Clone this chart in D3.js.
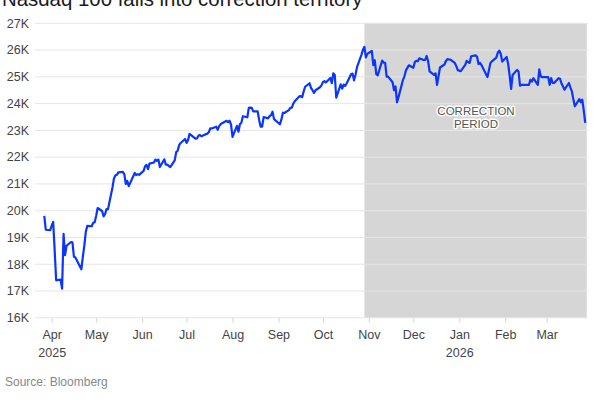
<!DOCTYPE html>
<html><head><meta charset="utf-8">
<script src="https://cdn.jsdelivr.net/npm/d3@7"></script>
<style>
html,body{margin:0;padding:0;background:#fff;}
svg{display:block;font-family:"Liberation Sans",Arial,sans-serif;}
</style></head>
<body><svg id="c" width="600" height="400"></svg>
<script>
const title = "Nasdaq 100 falls into correction territory";
const source = "Source: Bloomberg";
const annotation = ["CORRECTION", "PERIOD"];
const yTicks = [16000,17000,18000,19000,20000,21000,22000,23000,24000,25000,26000,27000];
const monthTicks = ["2025-04-01","2025-05-01","2025-06-01","2025-07-01","2025-08-01","2025-09-01","2025-10-01","2025-11-01","2025-12-01","2026-01-01","2026-02-01","2026-03-01"];
const correctionStart = "2025-10-29";
const correctionEnd = "2026-03-27";

const dates = [
"2025-03-27","2025-03-28","2025-03-31","2025-04-01","2025-04-02","2025-04-03","2025-04-04","2025-04-07","2025-04-08","2025-04-09",
"2025-04-10","2025-04-11","2025-04-14","2025-04-15","2025-04-16","2025-04-17","2025-04-21","2025-04-22","2025-04-23","2025-04-24",
"2025-04-25","2025-04-28","2025-04-29","2025-04-30","2025-05-01","2025-05-02","2025-05-05","2025-05-06","2025-05-07","2025-05-08",
"2025-05-09","2025-05-12","2025-05-13","2025-05-14","2025-05-15","2025-05-16","2025-05-19","2025-05-20","2025-05-21","2025-05-22",
"2025-05-23","2025-05-27","2025-05-28","2025-05-29","2025-05-30","2025-06-02","2025-06-03","2025-06-04","2025-06-05","2025-06-06",
"2025-06-09","2025-06-10","2025-06-11","2025-06-12","2025-06-13","2025-06-16","2025-06-17","2025-06-18","2025-06-20","2025-06-23",
"2025-06-24","2025-06-25","2025-06-26","2025-06-27","2025-06-30","2025-07-01","2025-07-02","2025-07-03","2025-07-07","2025-07-08",
"2025-07-09","2025-07-10","2025-07-11","2025-07-14","2025-07-15","2025-07-16","2025-07-17","2025-07-18","2025-07-21","2025-07-22",
"2025-07-23","2025-07-24","2025-07-25","2025-07-28","2025-07-29","2025-07-30","2025-07-31","2025-08-01","2025-08-04","2025-08-05",
"2025-08-06","2025-08-07","2025-08-08","2025-08-11","2025-08-12","2025-08-13","2025-08-14","2025-08-15","2025-08-18","2025-08-19",
"2025-08-20","2025-08-21","2025-08-22","2025-08-25","2025-08-26","2025-08-27","2025-08-28","2025-08-29","2025-09-02","2025-09-03",
"2025-09-04","2025-09-05","2025-09-08","2025-09-09","2025-09-10","2025-09-11","2025-09-12","2025-09-15","2025-09-16","2025-09-17",
"2025-09-18","2025-09-19","2025-09-22","2025-09-23","2025-09-24","2025-09-25","2025-09-26","2025-09-29","2025-09-30","2025-10-01",
"2025-10-02","2025-10-03","2025-10-06","2025-10-07","2025-10-08","2025-10-09","2025-10-10","2025-10-13","2025-10-14","2025-10-15",
"2025-10-16","2025-10-17","2025-10-20","2025-10-21","2025-10-22","2025-10-23","2025-10-24","2025-10-27","2025-10-28","2025-10-29",
"2025-10-30","2025-10-31","2025-11-03","2025-11-04","2025-11-05","2025-11-06","2025-11-07","2025-11-10","2025-11-11","2025-11-12",
"2025-11-13","2025-11-14","2025-11-17","2025-11-18","2025-11-19","2025-11-20","2025-11-21","2025-11-24","2025-11-25","2025-11-26",
"2025-11-28","2025-12-01","2025-12-02","2025-12-03","2025-12-04","2025-12-05","2025-12-08","2025-12-09","2025-12-10","2025-12-11",
"2025-12-12","2025-12-15","2025-12-16","2025-12-17","2025-12-18","2025-12-19","2025-12-22","2025-12-23","2025-12-24","2025-12-26",
"2025-12-29","2025-12-30","2025-12-31","2026-01-02","2026-01-05","2026-01-06","2026-01-07","2026-01-08","2026-01-09","2026-01-12",
"2026-01-13","2026-01-14","2026-01-15","2026-01-16","2026-01-20","2026-01-21","2026-01-22","2026-01-23","2026-01-26","2026-01-27",
"2026-01-28","2026-01-29","2026-01-30","2026-02-02","2026-02-03","2026-02-04","2026-02-05","2026-02-06","2026-02-09","2026-02-10",
"2026-02-11","2026-02-12","2026-02-13","2026-02-17","2026-02-18","2026-02-19","2026-02-20","2026-02-23","2026-02-24","2026-02-25",
"2026-02-26","2026-02-27","2026-03-02","2026-03-03","2026-03-04","2026-03-05","2026-03-06","2026-03-09","2026-03-10","2026-03-11",
"2026-03-12","2026-03-13","2026-03-16","2026-03-17","2026-03-18","2026-03-19","2026-03-20","2026-03-23","2026-03-24","2026-03-25",
"2026-03-26","2026-03-27"
];
const values = [
19810,19290,19270,19440,19580,18520,17400,17430,17090,19140,
18340,18690,18830,18820,18280,18250,17810,18280,18690,19210,
19430,19420,19550,19570,19810,20100,19990,19790,19870,20060,
20060,20870,21200,21320,21340,21430,21450,21370,21000,21110,
20920,21410,21330,21360,21340,21490,21660,21710,21550,21760,
21800,21910,21860,21910,21630,21920,21720,21720,21630,21880,
22190,22240,22450,22530,22680,22530,22640,22870,22690,22700,
22800,22830,22780,22860,22880,22930,23080,23070,23140,23020,
23160,23230,23270,23360,23310,23360,23220,22760,23170,22950,
23230,23290,23530,23490,23840,23850,23840,23710,23710,23380,
23140,23140,23500,23450,23530,23570,23700,23420,23230,23410,
23660,23650,23760,23840,23850,24000,24090,24270,24280,24240,
24450,24630,24760,24580,24500,24400,24500,24610,24680,24800,
24840,24790,24960,24760,25130,25070,24220,24720,24560,24710,
24660,24750,25100,25120,24870,25080,25360,25820,26010,26120,
25730,25860,25970,25440,25620,25100,25060,25610,25530,25520,
25010,25010,24800,24500,24640,24050,24240,24880,25020,25240,
25430,25340,25550,25600,25580,25690,25630,25630,25780,25580,
25200,25070,25130,24700,25020,25350,25460,25590,25660,25640,
25520,25400,25250,25210,25450,25600,25550,25520,25770,25800,
25750,25480,25520,25440,24990,25250,25510,25580,25720,25900,
25980,25860,25570,25740,25480,25050,24550,25070,25260,25200,
24670,24700,24700,24700,24890,24820,24950,24700,25280,25010,
24990,24990,24990,24700,24950,24770,24770,24950,24930,24750,
24640,24520,24770,24600,24460,24150,23900,24170,24050,24150,
23750,23280
];

const parse = d3.utcParse("%Y-%m-%d");
const data = dates.map((d, i) => ({date: parse(d), value: values[i]}));

const svg = d3.select("#c");
const left = 35, right = 588;
const font = "'Liberation Sans',Arial,sans-serif";

const x = d3.scaleUtc()
  .domain([parse("2025-04-01"), parse("2026-03-01")])
  .range([51.7, 546.7]);
const y = d3.scaleLinear().domain([16000, 27000]).range([317.8, 23.3]);

// title (partly cut at top, as in the reference)
svg.append("text").attr("x", 2).attr("y", 5.5)
  .attr("font-size", 20.4).attr("fill", "#1a1a1a")
  .text(title);

// shaded correction band
svg.append("rect")
  .attr("x", x(parse(correctionStart)))
  .attr("y", y(27000))
  .attr("width", x(parse(correctionEnd)) - x(parse(correctionStart)) + 1.5)
  .attr("height", y(16000) - y(27000))
  .attr("fill", "#d6d6d6");

// gridlines
svg.append("g").selectAll("line").data(yTicks).join("line")
  .attr("x1", left).attr("x2", right)
  .attr("y1", d => y(d)).attr("y2", d => y(d))
  .attr("stroke", "#e6e6e6").attr("stroke-width", 1);

// y labels
svg.append("g").selectAll("text").data(yTicks).join("text")
  .attr("x", 29).attr("y", d => y(d) + 4.3)
  .attr("text-anchor", "end").attr("font-size", 12.5).attr("fill", "#444")
  .text(d => (d / 1000) + "K");

// x axis ticks
const xAxis = d3.axisBottom(x)
  .tickValues(monthTicks.map(parse))
  .tickSize(5).tickPadding(7)
  .tickFormat(d3.utcFormat("%b"));
const gx = svg.append("g").attr("transform", `translate(0,${y(16000)})`).call(xAxis);
gx.select(".domain").remove();
gx.selectAll(".tick line").attr("stroke", "#d8d8d8");
gx.selectAll(".tick text").attr("font-size", 12.5).attr("fill", "#444")
  .attr("font-family", font);
gx.selectAll(".tick").each(function(d) {
  if (d.getUTCMonth() === 0 || (d.getUTCMonth() === 3 && d.getUTCFullYear() === 2025)) {
    d3.select(this).append("text")
      .attr("y", 30).attr("dy", "0.71em")
      .attr("text-anchor", "middle").attr("font-size", 12.5).attr("fill", "#444")
      .attr("font-family", font)
      .text(d.getUTCFullYear());
  }
});
gx.selectAll(".tick text").attr("dy", "0.71em");

// line
svg.append("path").datum(data)
  .attr("fill", "none").attr("stroke", "#0a35ff").attr("stroke-width", 2.2)
  .attr("stroke-linejoin", "round")
  .attr("d", d3.line().x(d => x(d.date)).y(d => y(d.value)));

// annotation
const ax = 476;
svg.append("g").selectAll("text").data(annotation).join("text")
  .attr("x", ax).attr("y", (d, i) => 115 + i * 12.8)
  .attr("text-anchor", "middle").attr("font-size", 11.5).attr("fill", "#555")
  .attr("stroke", "#fff").attr("stroke-width", 3).attr("paint-order", "stroke")
  .attr("stroke-linejoin", "round")
  .text(d => d);

// source
svg.append("text").attr("x", 5).attr("y", 386)
  .attr("font-size", 12).attr("fill", "#888")
  .text(source);
</script></body></html>
